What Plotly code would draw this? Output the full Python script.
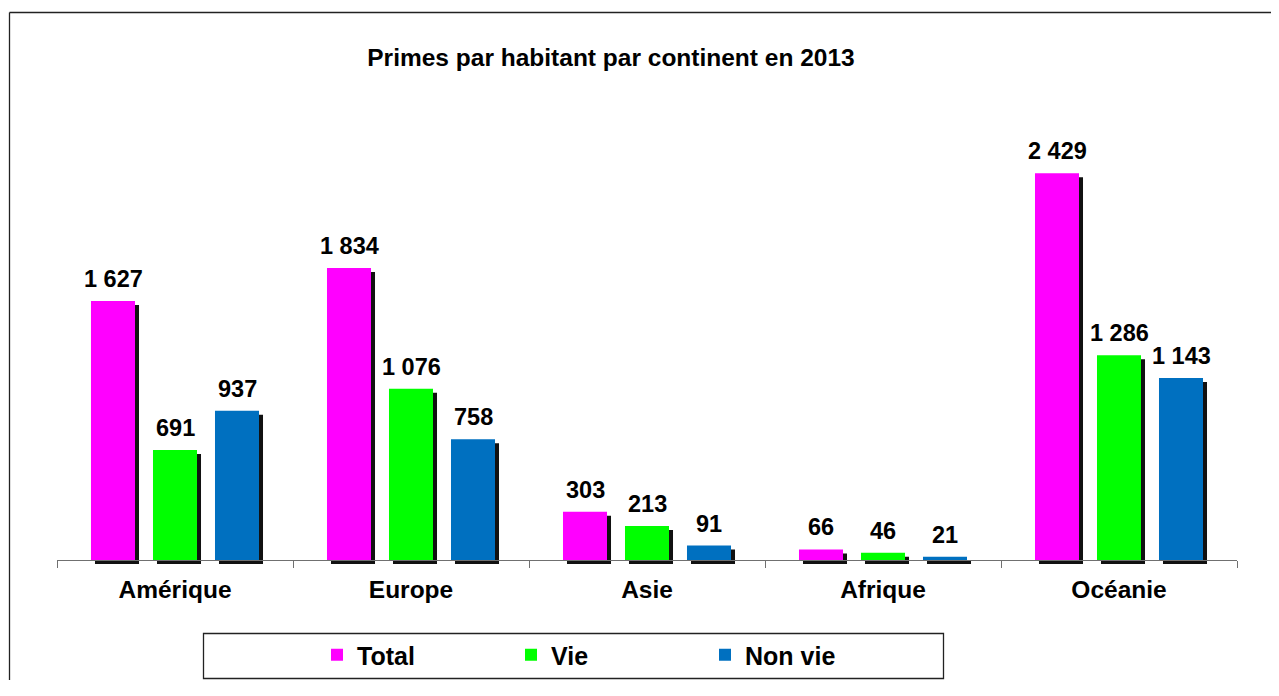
import plotly.graph_objects as go

categories = ["Amérique", "Europe", "Asie", "Afrique", "Océanie"]
series_names = ["Total", "Vie", "Non vie"]
total = [1627, 1834, 303, 66, 2429]
vie = [691, 1076, 213, 46, 1286]
non_vie = [937, 758, 91, 21, 1143]
title_text = "Primes par habitant par continent en 2013"

series = [total, vie, non_vie]
colors = ["#FF00FF", "#00FF00", "#0070C0"]
FONT = "Liberation Sans, Arial, sans-serif"

# page has an 8px body margin; keep the figure inside the window (no scrollbars)
OFF = 8
W, H = 1279 - 2 * OFF, 680 - OFF
ML = 57 - OFF
MR = W - (1241 - OFF)
MT = 130 - OFF
MB = H - (564 - OFF)
PW = W - ML - MR
PH = H - MT - MB
DX, DY = 4, 4  # shadow offset in px
BARGAP = 0.2119
YMAX = 2700

fig = go.Figure()

# shadows (drawn on the lower subplot)
for vals in series:
    fig.add_trace(go.Bar(x=categories, y=vals, xaxis="x", yaxis="y",
                         marker=dict(color="#111111", line=dict(width=0)),
                         showlegend=False, hoverinfo="skip"))
# main bars
for name, vals, col in zip(series_names, series, colors):
    fig.add_trace(go.Bar(x=categories, y=vals, name=name, xaxis="x2", yaxis="y2",
                         marker=dict(color=col, line=dict(width=0))))

# value labels
slot = (1 - BARGAP) / 3
annotations = []
for k, vals in enumerate(series):
    off = (k - 1) * slot
    for i, v in enumerate(vals):
        annotations.append(dict(
            x=i + off, y=v, xref="x2", yref="y2",
            text=f"{v:,}".replace(",", " "),
            showarrow=False, yanchor="bottom", xanchor="center", yshift=7,
            font=dict(family=FONT, size=23.5, color="black", weight="bold")))

def px_x(px):
    return (px - OFF - ML) / PW

def px_y(py):
    return (H - MB - (py - OFF)) / PH

BORDER = dict(color="#222222", width=1.3)
shapes = [
    # outer chart border: only left and top edges are visible
    dict(type="line", xref="paper", yref="paper",
         x0=px_x(9.5), x1=px_x(9.5), y0=px_y(720), y1=px_y(12.5), line=BORDER, layer="below"),
    dict(type="line", xref="paper", yref="paper",
         x0=px_x(9.5), x1=px_x(1300), y0=px_y(12.5), y1=px_y(12.5), line=BORDER, layer="below"),
    # legend box
    dict(type="rect", xref="paper", yref="paper",
         x0=px_x(203.5), x1=px_x(943.5), y0=px_y(678.5), y1=px_y(633.5),
         line=BORDER, fillcolor="rgba(0,0,0,0)", layer="below"),
]

fig.update_layout(
    width=W, height=H,
    margin=dict(l=ML, r=MR, t=MT, b=MB, pad=0),
    paper_bgcolor="white", plot_bgcolor="rgba(0,0,0,0)",
    barmode="group", bargap=BARGAP, bargroupgap=0.29,
    separators=". ",
    title=dict(text=title_text, x=(611 - OFF) / W, xref="container", xanchor="center",
               y=1 - (57 - OFF) / H, yref="container", yanchor="middle",
               font=dict(family=FONT, size=24.5, color="black", weight="bold")),
    xaxis=dict(domain=[DX / PW, 1], visible=False, anchor="y"),
    yaxis=dict(domain=[0, 1 - DY / PH], visible=False, range=[0, YMAX], anchor="x"),
    xaxis2=dict(domain=[0, 1 - DX / PW], anchor="y2", showline=True, linecolor="#707070",
                linewidth=1, ticks="outside", tickson="boundaries", ticklen=7,
                tickcolor="#707070", tickwidth=1, showgrid=False, zeroline=False,
                ticklabelstandoff=8,
                tickfont=dict(family=FONT, size=24.5, color="black", weight="bold")),
    yaxis2=dict(domain=[DY / PH, 1], anchor="x2", range=[0, YMAX], visible=False),
    showlegend=True,
    legend=dict(orientation="h", xref="container", yref="container",
                x=(317 - OFF) / W, xanchor="left", y=1 - (655 - OFF) / H, yanchor="middle",
                entrywidth=149, entrywidthmode="pixels",
                bgcolor="rgba(0,0,0,0)", borderwidth=0,
                font=dict(family=FONT, size=25, color="black", weight="bold"),
                traceorder="normal"),
    annotations=annotations,
    shapes=shapes,
)

fig.write_html("out.html")
